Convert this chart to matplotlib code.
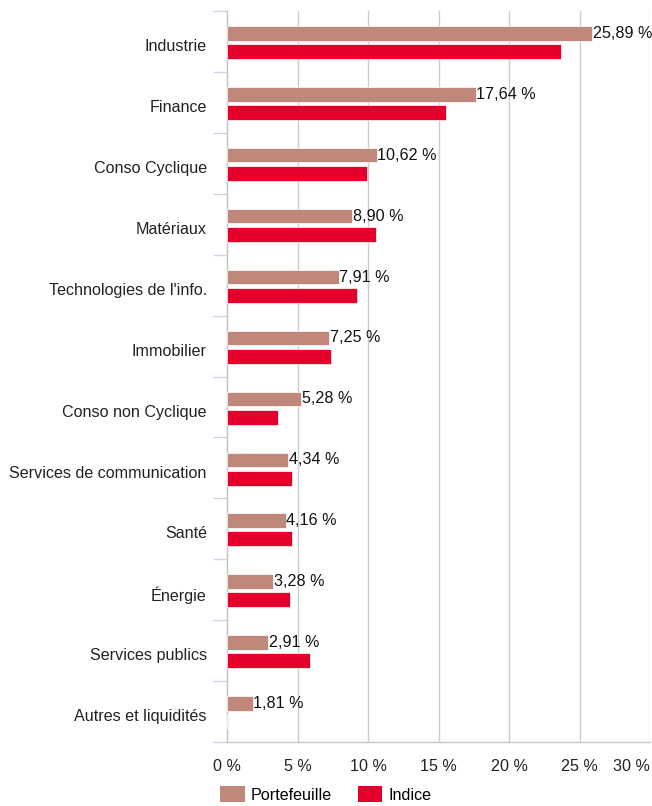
import matplotlib
matplotlib.use("Agg")
import matplotlib.pyplot as plt
import numpy as np
from matplotlib.patches import Patch

categories = ["Industrie", "Finance", "Conso Cyclique", "Matériaux",
              "Technologies de l'info.", "Immobilier", "Conso non Cyclique",
              "Services de communication", "Santé", "Énergie",
              "Services publics", "Autres et liquidités"]
portefeuille = [25.89, 17.64, 10.62, 8.90, 7.91, 7.25, 5.28, 4.34, 4.16, 3.28, 2.91, 1.81]
indice = [23.7, 15.5, 9.95, 10.6, 9.25, 7.4, 3.6, 4.62, 4.62, 4.5, 5.9, 0.0]
xticks = [0, 5, 10, 15, 20, 25, 30]
xticklabels = ["0 %", "5 %", "10 %", "15 %", "20 %", "25 %", "30 %"]

c_port = "#BF887A"
c_ind = "#E4002B"
grid_c = "#CCCCCC"
tick_c = "#CCD6EB"

plt.rcParams['font.family'] = ['Liberation Sans', 'DejaVu Sans']
FS = 11.6

W, H = 652, 806
fig = plt.figure(figsize=(W / 100, H / 100), dpi=100)
left, right, top, bottom = 227, 650, 11, 742
ax = fig.add_axes([left / W, 1 - bottom / H, (right - left) / W, (bottom - top) / H])

y = np.arange(len(categories))
band = (bottom - top) / len(categories)
off_p = -8.1 / band
off_i = 10.2 / band
h_p = 14.5 / band
h_i = 15.0 / band

ax.barh(y + off_p, portefeuille, height=h_p, color=c_port, edgecolor="white", linewidth=0.5, zorder=3)
ax.barh(y + off_i, indice, height=h_i, color=c_ind, edgecolor="white", linewidth=0.5, zorder=3)

for yi, v in zip(y, portefeuille):
    ax.text(v + 0.05, yi + off_p, f"{v:.2f} %".replace(".", ","), va="center", ha="left",
            fontsize=FS, color="#111111", zorder=4)

ax.set_xlim(0, 30)
ax.set_ylim(len(categories) - 0.5, -0.5)

ax.set_xticks(xticks)
ax.set_xticklabels(xticklabels, fontsize=FS, color="#222222")
ax.get_xticklabels()[-1].set_ha("right")
ax.get_xticklabels()[-1].set_x(30.15)
ax.tick_params(axis="x", length=0, pad=12)
for xv in xticks[1:]:
    ax.axvline(xv, color=grid_c, linewidth=1, zorder=1)

ax.set_yticks(y + 0.06)
ax.set_yticklabels(categories, fontsize=FS, color="#222222")
ax.set_yticks(np.arange(len(categories) + 1) - 0.5, minor=True)
ax.tick_params(axis="y", which="major", length=0, pad=14.5)
ax.tick_params(axis="y", which="minor", length=10, width=1, color=tick_c)

for s in ["top", "right"]:
    ax.spines[s].set_visible(False)
ax.spines["left"].set_color("#C0C0C0")
ax.spines["left"].set_linewidth(1)
ax.spines["bottom"].set_color("#C8C8C8")
ax.spines["bottom"].set_linewidth(1)

handles = [Patch(facecolor=c_port, edgecolor="none", label="Portefeuille"),
           Patch(facecolor=c_ind, edgecolor="none", label="Indice")]
fig.legend(handles=handles, loc="lower left", bbox_to_anchor=(214 / W, -3 / H), ncol=2,
           frameon=False, fontsize=FS, handlelength=1.5, handleheight=1.15,
           handletextpad=0.4, columnspacing=1.6, borderaxespad=0)

fig.savefig("out.png", dpi=100)
